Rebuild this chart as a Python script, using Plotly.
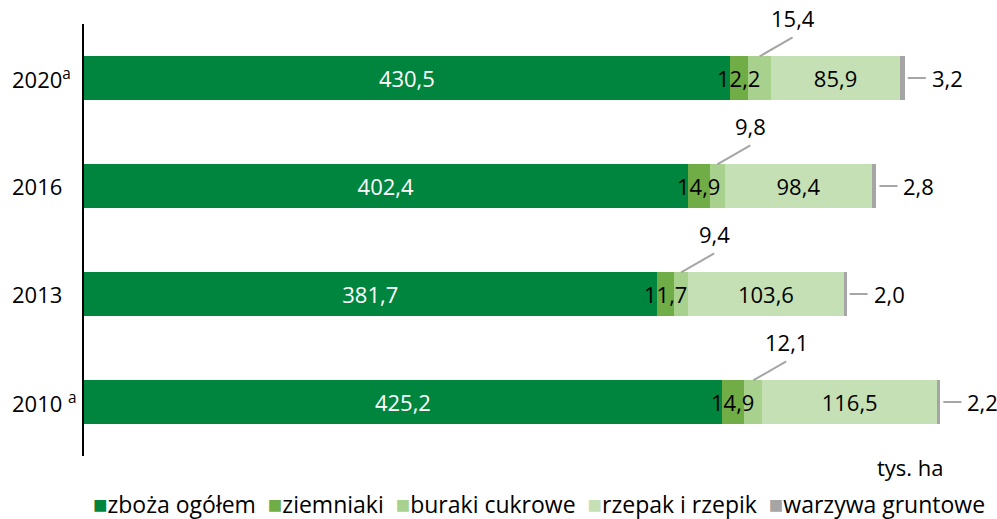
import plotly.graph_objects as go

# ---- data ----
years = ["2010", "2013", "2016", "2020"]
year_labels = ["2010 <sup>a</sup>", "2013", "2016", "2020<sup>a</sup>"]
series_names = ["zboża ogółem", "ziemniaki", "buraki cukrowe", "rzepak i rzepik", "warzywa gruntowe"]
zboza = [425.2, 381.7, 402.4, 430.5]
ziemniaki = [14.9, 11.7, 14.9, 12.2]
buraki = [12.1, 9.4, 9.8, 15.4]
rzepak = [116.5, 103.6, 98.4, 85.9]
warzywa = [2.2, 2.0, 2.8, 3.2]
unit_label = "tys. ha"

colors = ["#00853F", "#70AD47", "#A9D18E", "#C5E0B4", "#A5A5A5"]
FONT = "Open Sans"
FS = 22

# plot area in pixels
L, R, T, B = 84, 997, 24, 456


def px(xp):
    return (xp - L) / (R - L)


def py(yp):
    return (B - yp) / (B - T)


def fmt(v):
    return f"{v:.1f}".replace(".", ",")


pos = list(range(len(years)))
series = [zboza, ziemniaki, buraki, rzepak, warzywa]

fig = go.Figure()
for k, (name, vals, col) in enumerate(zip(series_names, series, colors)):
    kw = {}
    if k == 0:
        kw = dict(text=[fmt(v) for v in vals], textposition="inside", insidetextanchor="middle",
                  textfont=dict(color="white", size=FS, family=FONT), textangle=0, constraintext="none")
    elif k == 3:
        kw = dict(text=[fmt(v) for v in vals], textposition="inside", insidetextanchor="middle",
                  textfont=dict(color="black", size=FS, family=FONT), textangle=0, constraintext="none")
    fig.add_trace(go.Bar(
        y=pos, x=vals, orientation="h", name=name, width=0.4,
        marker=dict(color=col, line=dict(width=0)), showlegend=False, hoverinfo="skip", **kw))

annotations = []
shapes = []
for i in pos:
    # ziemniaki label centred on its segment
    annotations.append(dict(x=zboza[i] + ziemniaki[i] / 2, y=i, xref="x", yref="y",
                            text=fmt(ziemniaki[i]), showarrow=False,
                            font=dict(color="black", size=FS, family=FONT)))
    # buraki label with leader line
    bc = zboza[i] + ziemniaki[i] + buraki[i] / 2
    shapes.append(dict(type="line", xref="x", yref="y", xsizemode="pixel", ysizemode="pixel",
                       xanchor=bc, yanchor=i + 0.2, x0=0, x1=33, y0=0, y1=19,
                       line=dict(color="#A5A5A5", width=2)))
    annotations.append(dict(x=bc, y=i + 0.2, xref="x", yref="y", xshift=33, yshift=38,
                            text=fmt(buraki[i]), showarrow=False,
                            font=dict(color="black", size=FS, family=FONT)))
    # warzywa label with leader line
    tot = zboza[i] + ziemniaki[i] + buraki[i] + rzepak[i] + warzywa[i]
    shapes.append(dict(type="line", xref="x", yref="y", xsizemode="pixel", ysizemode="pixel",
                       xanchor=tot, yanchor=i, x0=3, x1=21, y0=0, y1=0,
                       line=dict(color="#A5A5A5", width=2)))
    annotations.append(dict(x=tot, y=i, xref="x", yref="y", xshift=25, xanchor="left",
                            text=fmt(warzywa[i]), showarrow=False,
                            font=dict(color="black", size=FS, family=FONT)))
    # year label
    annotations.append(dict(x=px(10), y=i, xref="paper", yref="y", xanchor="left",
                            text=year_labels[i], showarrow=False,
                            font=dict(color="black", size=FS, family=FONT)))

annotations.append(dict(x=px(946), y=py(467), xref="paper", yref="paper",
                        xanchor="right", yanchor="middle", text=unit_label, showarrow=False,
                        font=dict(color="black", size=FS, family=FONT)))

# compact legend line
parts = [f'<span style="color:{c};font-size:24px">■</span>{n}' for n, c in zip(series_names, colors)]
annotations.append(dict(x=px(539), y=py(503), xref="paper", yref="paper", xanchor="center",
                        yanchor="middle", text="  ".join(parts), showarrow=False,
                        font=dict(color="black", size=23, family=FONT)))

fig.update_layout(
    width=997, height=519,
    margin=dict(l=L, r=997 - R, t=T, b=519 - B, autoexpand=False),
    barmode="stack",
    plot_bgcolor="white", paper_bgcolor="white",
    xaxis=dict(range=[0, (R - L) / 1.5], visible=False, fixedrange=True),
    yaxis=dict(range=[-0.5, 3.5], showticklabels=False, showgrid=False, zeroline=False,
               showline=True, linecolor="black", linewidth=2, ticks="", fixedrange=True),
    font=dict(family=FONT, size=FS, color="black"),
    annotations=annotations, shapes=shapes,
    showlegend=False,
)

fig.write_html("out.html", config={"displayModeBar": False},
               post_script="document.body.style.margin='0';document.body.style.overflow='hidden';")
